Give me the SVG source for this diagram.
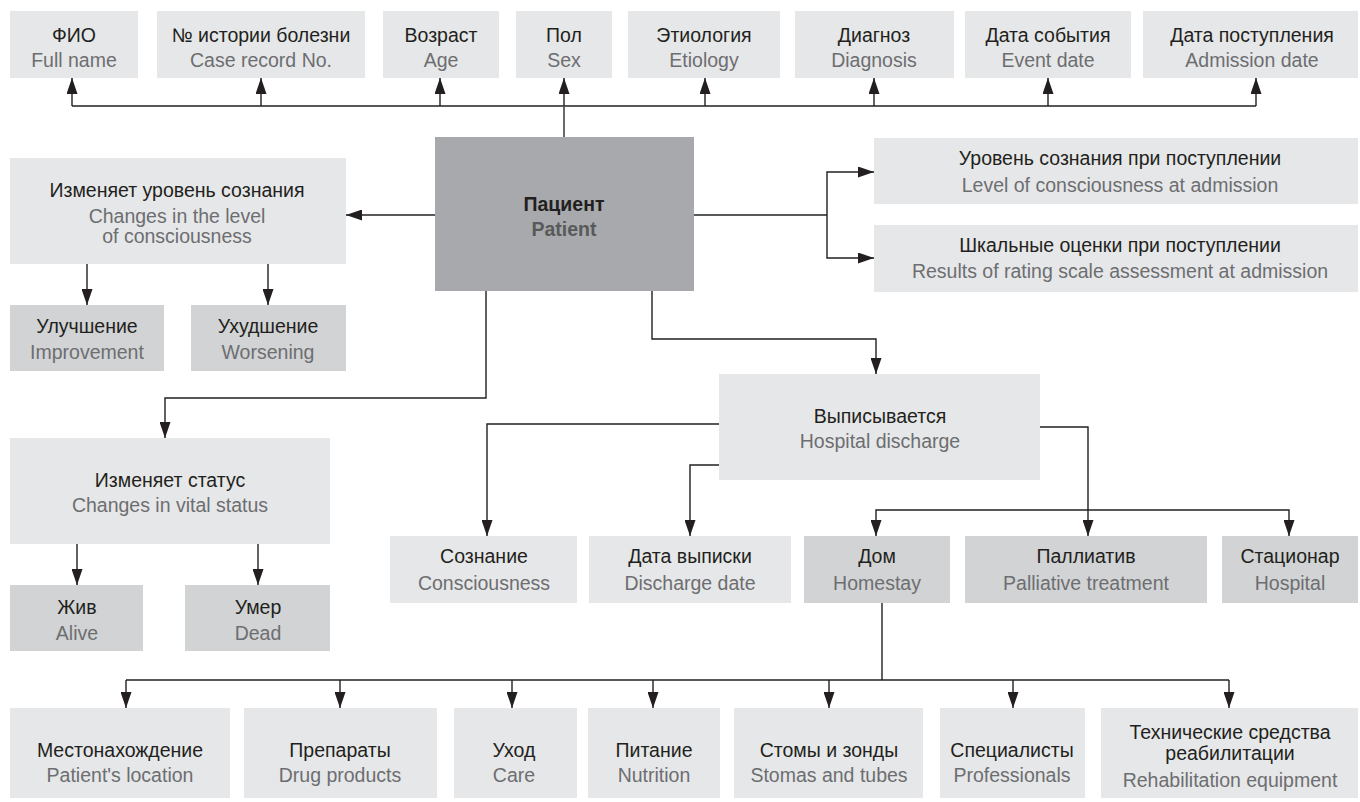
<svg xmlns="http://www.w3.org/2000/svg" width="1360" height="802" viewBox="0 0 1360 802">
<style>
.l{fill:#e6e7e8}
.d{fill:#d1d3d4}
.p{fill:#a7a9ac}
text{font-family:"Liberation Sans",Arial,sans-serif;font-size:19.5px;text-anchor:middle}
.ru{fill:#231f20}
.en{fill:#6d6e71}
.pb{font-weight:bold;font-size:19.5px}
.c{fill:none;stroke:#231f20;stroke-width:1.4}
.g{fill:none;stroke:#58595b;stroke-width:1.8}
</style>
<defs>
<marker id="ah" viewBox="0 0 16 11" refX="16" refY="5.5" markerWidth="16" markerHeight="11" orient="auto" markerUnits="userSpaceOnUse">
<path d="M0,0 L16,5.5 L0,11 Z" fill="#231f20"/>
</marker>
</defs>
<rect width="1360" height="802" fill="#fff"/>

<g id="connectors">
<path class="c" d="M72,106 H1256"/>
<path class="c" d="M72,106 V78" marker-end="url(#ah)"/>
<path class="c" d="M261,106 V78" marker-end="url(#ah)"/>
<path class="c" d="M440,106 V78" marker-end="url(#ah)"/>
<path class="c" d="M705,106 V78" marker-end="url(#ah)"/>
<path class="c" d="M874,106 V78" marker-end="url(#ah)"/>
<path class="c" d="M1048,106 V78" marker-end="url(#ah)"/>
<path class="c" d="M1256,106 V78" marker-end="url(#ah)"/>
<path class="g" d="M564,137 V106"/>
<path class="c" d="M564,106 V78" marker-end="url(#ah)"/>
<path class="g" d="M435,215 H346" marker-end="url(#ah)"/>
<path class="c" d="M87,264 V305" marker-end="url(#ah)"/>
<path class="c" d="M268,264 V305" marker-end="url(#ah)"/>
<path class="c" d="M486,291 V398 H165 V438" marker-end="url(#ah)"/>
<path class="c" d="M77,544 V585" marker-end="url(#ah)"/>
<path class="c" d="M258,544 V585" marker-end="url(#ah)"/>
<path class="g" d="M694,215 H827"/>
<path class="c" d="M827,215 V172 H874" marker-end="url(#ah)"/>
<path class="c" d="M827,215 V258 H874" marker-end="url(#ah)"/>
<path class="c" d="M652,291 V339 H876 V374" marker-end="url(#ah)"/>
<path class="c" d="M719,424 H487 V536" marker-end="url(#ah)"/>
<path class="c" d="M719,465 H690 V536" marker-end="url(#ah)"/>
<path class="c" d="M1040,427 H1088 V536" marker-end="url(#ah)"/>
<path class="c" d="M1088,510 H876 V536" marker-end="url(#ah)"/>
<path class="c" d="M1088,510 H1289 V536" marker-end="url(#ah)"/>
<path class="c" d="M882,603 V680"/>
<path class="c" d="M126,680 H1229"/>
<path class="c" d="M126,680 V708" marker-end="url(#ah)"/>
<path class="c" d="M340,680 V708" marker-end="url(#ah)"/>
<path class="c" d="M512,680 V708" marker-end="url(#ah)"/>
<path class="c" d="M653,680 V708" marker-end="url(#ah)"/>
<path class="c" d="M829,680 V708" marker-end="url(#ah)"/>
<path class="c" d="M1013,680 V708" marker-end="url(#ah)"/>
<path class="c" d="M1229,680 V708" marker-end="url(#ah)"/>
</g>

<g id="fio"><rect class="l" x="10" y="11" width="128" height="67"/><text class="ru" x="74" y="42">ФИО</text><text class="en" x="74" y="67">Full name</text></g>
<g id="case"><rect class="l" x="157" y="11" width="208" height="67"/><text class="ru" x="261" y="42">№ истории болезни</text><text class="en" x="261" y="67">Case record No.</text></g>
<g id="age"><rect class="l" x="383" y="11" width="116" height="67"/><text class="ru" x="441" y="42">Возраст</text><text class="en" x="441" y="67">Age</text></g>
<g id="sex"><rect class="l" x="516" y="11" width="96" height="67"/><text class="ru" x="564" y="42">Пол</text><text class="en" x="564" y="67">Sex</text></g>
<g id="etiology"><rect class="l" x="628" y="11" width="152" height="67"/><text class="ru" x="704" y="42">Этиология</text><text class="en" x="704" y="67">Etiology</text></g>
<g id="diagnosis"><rect class="l" x="795" y="11" width="159" height="67"/><text class="ru" x="874" y="42">Диагноз</text><text class="en" x="874" y="67">Diagnosis</text></g>
<g id="eventdate"><rect class="l" x="965" y="11" width="166" height="67"/><text class="ru" x="1048" y="42">Дата события</text><text class="en" x="1048" y="67">Event date</text></g>
<g id="admdate"><rect class="l" x="1143" y="11" width="215" height="67"/><text class="ru" x="1252" y="42">Дата поступления</text><text class="en" x="1252" y="67">Admission date</text></g>

<g id="patient"><rect class="p" x="435" y="137" width="259" height="154"/><text class="ru pb" x="564" y="211">Пациент</text><text class="pb" x="564" y="236" fill="#58595b">Patient</text></g>

<g id="changeslevel"><rect class="l" x="10" y="158" width="336" height="106"/><text class="ru" x="177" y="197">Изменяет уровень сознания</text><text class="en" x="177" y="223">Changes in the level</text><text class="en" x="177" y="243">of consciousness</text></g>
<g id="improvement"><rect class="d" x="10" y="305" width="154" height="66"/><text class="ru" x="87" y="333">Улучшение</text><text class="en" x="87" y="359">Improvement</text></g>
<g id="worsening"><rect class="d" x="191" y="305" width="155" height="66"/><text class="ru" x="268" y="333">Ухудшение</text><text class="en" x="268" y="359">Worsening</text></g>

<g id="vital"><rect class="l" x="10" y="438" width="320" height="106"/><text class="ru" x="170" y="487">Изменяет статус</text><text class="en" x="170" y="512">Changes in vital status</text></g>
<g id="alive"><rect class="d" x="10" y="585" width="133" height="66"/><text class="ru" x="77" y="614">Жив</text><text class="en" x="77" y="640">Alive</text></g>
<g id="dead"><rect class="d" x="185" y="585" width="145" height="66"/><text class="ru" x="258" y="614">Умер</text><text class="en" x="258" y="640">Dead</text></g>

<g id="lvladm"><rect class="l" x="874" y="138" width="484" height="66"/><text class="ru" x="1120" y="165">Уровень сознания при поступлении</text><text class="en" x="1120" y="192">Level of consciousness at admission</text></g>
<g id="scaleadm"><rect class="l" x="874" y="225" width="484" height="67"/><text class="ru" x="1120" y="252">Шкальные оценки при поступлении</text><text class="en" x="1120" y="278">Results of rating scale assessment at admission</text></g>

<g id="discharge"><rect class="l" x="719" y="374" width="321" height="106"/><text class="ru" x="880" y="423">Выписывается</text><text class="en" x="880" y="448">Hospital discharge</text></g>

<g id="consciousness"><rect class="l" x="390" y="536" width="187" height="67"/><text class="ru" x="484" y="563">Сознание</text><text class="en" x="484" y="590">Consciousness</text></g>
<g id="dischdate"><rect class="l" x="589" y="536" width="202" height="67"/><text class="ru" x="690" y="563">Дата выписки</text><text class="en" x="690" y="590">Discharge date</text></g>
<g id="home"><rect class="d" x="804" y="536" width="146" height="67"/><text class="ru" x="877" y="563">Дом</text><text class="en" x="877" y="590">Homestay</text></g>
<g id="palliative"><rect class="d" x="965" y="536" width="242" height="67"/><text class="ru" x="1086" y="563">Паллиатив</text><text class="en" x="1086" y="590">Palliative treatment</text></g>
<g id="hospital"><rect class="d" x="1222" y="536" width="136" height="67"/><text class="ru" x="1290" y="563">Стационар</text><text class="en" x="1290" y="590">Hospital</text></g>

<g id="location"><rect class="l" x="10" y="708" width="220" height="90"/><text class="ru" x="120" y="757">Местонахождение</text><text class="en" x="120" y="782">Patient's location</text></g>
<g id="drugs"><rect class="l" x="244" y="708" width="193" height="90"/><text class="ru" x="340" y="757">Препараты</text><text class="en" x="340" y="782">Drug products</text></g>
<g id="care"><rect class="l" x="454" y="708" width="123" height="90"/><text class="ru" x="514" y="757">Уход</text><text class="en" x="514" y="782">Care</text></g>
<g id="nutrition"><rect class="l" x="588" y="708" width="132" height="90"/><text class="ru" x="654" y="757">Питание</text><text class="en" x="654" y="782">Nutrition</text></g>
<g id="stomas"><rect class="l" x="734" y="708" width="189" height="90"/><text class="ru" x="829" y="757">Стомы и зонды</text><text class="en" x="829" y="782">Stomas and tubes</text></g>
<g id="professionals"><rect class="l" x="940" y="708" width="145" height="90"/><text class="ru" x="1012" y="757">Специалисты</text><text class="en" x="1012" y="782">Professionals</text></g>
<g id="rehab"><rect class="l" x="1101" y="708" width="257" height="90"/><text class="ru" x="1230" y="739">Технические средства</text><text class="ru" x="1230" y="760">реабилитации</text><text class="en" x="1230" y="787">Rehabilitation equipment</text></g>
</svg>
